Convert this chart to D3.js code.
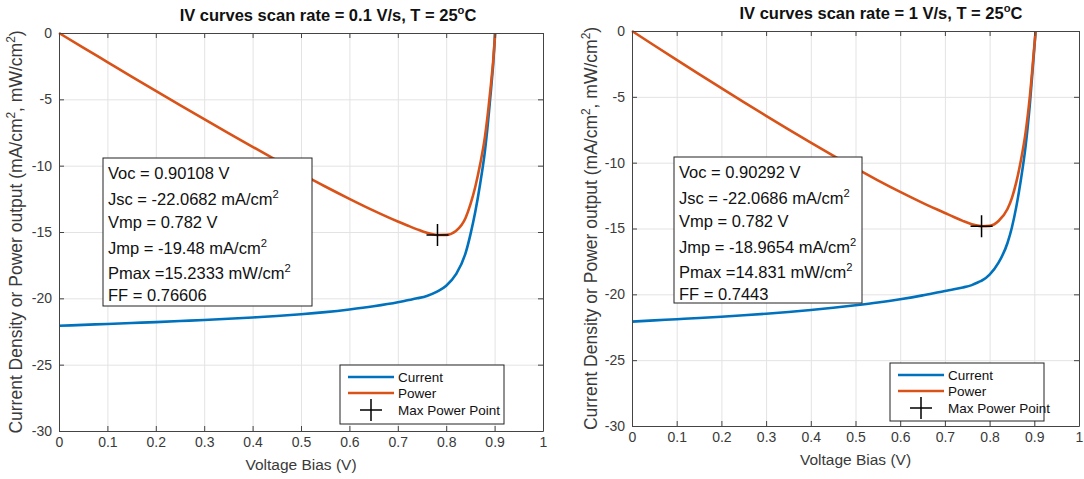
<!DOCTYPE html>
<html>
<head>
<meta charset="utf-8">
<script src="https://cdn.jsdelivr.net/npm/d3@7"></script>
<style>
body { margin: 0; background: #fff; }
svg { display: block; font-family: "Liberation Sans", Arial, Helvetica, sans-serif; }
</style>
</head>
<body>
<script>
// voltage bias (V) for each scan
var voltage1 = [0, 0.05, 0.1, 0.15, 0.2, 0.25, 0.3, 0.35, 0.4, 0.45, 0.5, 0.55, 0.6, 0.65, 0.7, 0.72, 0.74, 0.76, 0.78, 0.782, 0.8, 0.82, 0.84, 0.85, 0.86, 0.87, 0.88, 0.89, 0.9, 0.901];
var current1 = [-22.07, -22.0, -21.93, -21.86, -21.79, -21.71, -21.63, -21.54, -21.44, -21.33, -21.2, -21.04, -20.84, -20.6, -20.3, -20.15, -20.0, -19.82, -19.52, -19.48, -19.05, -18.2, -16.6, -15.2, -13.5, -11.4, -8.9, -5.3, -0.7, 0];
var power1 = [0, -1.1, -2.19, -3.28, -4.36, -5.43, -6.49, -7.54, -8.58, -9.6, -10.6, -11.57, -12.5, -13.39, -14.21, -14.51, -14.8, -15.06, -15.22, -15.23, -15.22, -14.92, -13.94, -12.92, -11.61, -9.92, -7.83, -4.72, -0.63, 0];

var voltage2 = [0, 0.05, 0.1, 0.15, 0.2, 0.25, 0.3, 0.35, 0.4, 0.45, 0.5, 0.55, 0.6, 0.65, 0.7, 0.72, 0.74, 0.76, 0.78, 0.782, 0.8, 0.82, 0.84, 0.85, 0.86, 0.87, 0.88, 0.89, 0.9, 0.903];
var current2 = [-22.07, -21.98, -21.89, -21.8, -21.7, -21.59, -21.47, -21.34, -21.19, -21.02, -20.83, -20.62, -20.37, -20.08, -19.74, -19.62, -19.48, -19.3, -19.0, -18.97, -18.5, -17.6, -16.1, -14.9, -13.3, -11.3, -8.9, -5.6, -1.3, 0];
var power2 = [0, -1.1, -2.19, -3.27, -4.34, -5.4, -6.44, -7.47, -8.48, -9.46, -10.42, -11.34, -12.22, -13.05, -13.82, -14.13, -14.42, -14.67, -14.82, -14.83, -14.8, -14.43, -13.52, -12.67, -11.44, -9.83, -7.83, -4.98, -1.17, 0];

// max power points [V, P]
var mpp1 = [0.782, -15.2333];
var mpp2 = [0.782, -14.831];

var stats1 = ["Voc = 0.90108 V", "Jsc = -22.0682 mA/cm^2", "Vmp = 0.782 V", "Jmp = -19.48 mA/cm^2", "Pmax =15.2333 mW/cm^2", "FF = 0.76606"];
var stats2 = ["Voc = 0.90292 V", "Jsc = -22.0686 mA/cm^2", "Vmp = 0.782 V", "Jmp = -18.9654 mA/cm^2", "Pmax =14.831 mW/cm^2", "FF = 0.7443"];

var titles = ["IV curves scan rate = 0.1 V/s, T = 25^oC", "IV curves scan rate = 1 V/s, T = 25^oC"];
var xTicks = [0, 0.1, 0.2, 0.3, 0.4, 0.5, 0.6, 0.7, 0.8, 0.9, 1];
var yTicks = [0, -5, -10, -15, -20, -25, -30];
var legendLabels = ["Current", "Power", "Max Power Point"];
var xLabel = "Voltage Bias (V)";
var yLabel = "Current Density or Power output (mA/cm^2, mW/cm^2)";

var blue = "#0072bd", orange = "#d95319";

var panels = [
	{v: voltage1, j: current1, p: power1, mpp: mpp1, stats: stats1, title: titles[0],
	 left: 59, top: 33, w: 484, h: 398, titleX: 328, ylabX: 22,
	 box: {x: 103, y: 158, w: 209, h: 148}, legend: {x: 340, y: 365, w: 164, h: 59}},
	{v: voltage2, j: current2, p: power2, mpp: mpp2, stats: stats2, title: titles[1],
	 left: 632, top: 31, w: 447, h: 395, titleX: 881, ylabX: 597,
	 box: {x: 674, y: 157, w: 188, h: 146}, legend: {x: 890, y: 363, w: 154, h: 58}}
];

var svg = d3.select("body").append("svg")
	.attr("width", 1084)
	.attr("height", 479);

// writes "a^2b" as text with a raised 2
function supText(sel, str, size) {
	var parts = str.split("^");
	sel.append("tspan").text(parts[0]);
	for (var i = 1; i < parts.length; i++) {
		sel.append("tspan").attr("dy", -size * 0.4).attr("font-size", size * 0.68).text(parts[i].charAt(0));
		sel.append("tspan").attr("dy", size * 0.4).text(parts[i].slice(1));
	}
}

panels.forEach(function(pn) {
	var x = d3.scaleLinear().domain([0, 1]).range([pn.left, pn.left + pn.w]);
	var y = d3.scaleLinear().domain([-30, 0]).range([pn.top + pn.h, pn.top]);
	var g = svg.append("g");

	// grid
	g.append("g")
		.attr("transform", "translate(0," + (pn.top + pn.h) + ")")
		.call(d3.axisBottom(x).tickValues(xTicks).tickSize(-pn.h).tickFormat(""))
		.call(function(a) { a.select(".domain").remove(); a.selectAll("line").attr("stroke", "#e3e3e3"); });
	g.append("g")
		.attr("transform", "translate(" + pn.left + ",0)")
		.call(d3.axisLeft(y).tickValues(yTicks).tickSize(-pn.w).tickFormat(""))
		.call(function(a) { a.select(".domain").remove(); a.selectAll("line").attr("stroke", "#e3e3e3"); });

	// curves
	var pts = pn.v.map(function(d, i) { return {v: d, j: pn.j[i], p: pn.p[i]}; });
	g.append("path").datum(pts)
		.attr("fill", "none").attr("stroke", blue).attr("stroke-width", 2.6)
		.attr("d", d3.line().x(function(d) { return x(d.v); }).y(function(d) { return y(d.j); }).curve(d3.curveMonotoneX));
	g.append("path").datum(pts)
		.attr("fill", "none").attr("stroke", orange).attr("stroke-width", 2.6)
		.attr("d", d3.line().x(function(d) { return x(d.v); }).y(function(d) { return y(d.p); }).curve(d3.curveMonotoneX));

	// max power point marker
	g.append("path")
		.attr("d", "M-11,0H11M0,-11V11")
		.attr("transform", "translate(" + x(pn.mpp[0]) + "," + y(pn.mpp[1]) + ")")
		.attr("stroke", "#000").attr("stroke-width", 1.5);

	// axes, ticks inward on all four sides
	var axCol = "#444";
	function styleAx(a) {
		a.select(".domain").attr("stroke", axCol);
		a.selectAll(".tick line").attr("stroke", axCol);
		a.selectAll("text").attr("fill", "#3a3a3a").attr("font-size", 14).attr("font-family", null);
	}
	g.append("g")
		.attr("transform", "translate(0," + (pn.top + pn.h) + ")")
		.call(d3.axisBottom(x).tickValues(xTicks).tickSizeInner(-5).tickSizeOuter(0).tickPadding(6).tickFormat(function(d) { return String(d); }))
		.call(styleAx);
	g.append("g")
		.attr("transform", "translate(0," + pn.top + ")")
		.call(d3.axisTop(x).tickValues(xTicks).tickSizeInner(-5).tickSizeOuter(0).tickFormat(""))
		.call(styleAx);
	g.append("g")
		.attr("transform", "translate(" + pn.left + ",0)")
		.call(d3.axisLeft(y).tickValues(yTicks).tickSizeInner(-5).tickSizeOuter(0).tickPadding(7).tickFormat(function(d) { return String(d); }))
		.call(styleAx);
	g.append("g")
		.attr("transform", "translate(" + (pn.left + pn.w) + ",0)")
		.call(d3.axisRight(y).tickValues(yTicks).tickSizeInner(-5).tickSizeOuter(0).tickFormat(""))
		.call(styleAx);

	// title
	supText(g.append("text")
		.attr("x", pn.titleX).attr("y", pn.top - 12)
		.attr("text-anchor", "middle").attr("font-size", 16.5).attr("font-weight", "bold").attr("fill", "#111"),
		pn.title, 16.5);

	// axis labels
	g.append("text")
		.attr("x", pn.left + pn.w / 2).attr("y", pn.top + pn.h + 39)
		.attr("text-anchor", "middle").attr("font-size", 15.5).attr("fill", "#3a3a3a")
		.text(xLabel);
	supText(g.append("text")
		.attr("transform", "translate(" + pn.ylabX + "," + (pn.top + pn.h / 2) + ") rotate(-90)")
		.attr("text-anchor", "middle").attr("font-size", 17.5).attr("fill", "#3a3a3a"),
		yLabel, 17.5);

	// stats box
	g.append("rect")
		.attr("x", pn.box.x).attr("y", pn.box.y).attr("width", pn.box.w).attr("height", pn.box.h)
		.attr("fill", "#fff").attr("stroke", "#222").attr("stroke-width", 1);
	var base = [21, 47, 70, 96, 121, 143];
	pn.stats.forEach(function(s, i) {
		supText(g.append("text")
			.attr("x", pn.box.x + 5).attr("y", pn.box.y + base[i])
			.attr("font-size", 16.5).attr("fill", "#111"), s, 16.5);
	});

	// legend
	var L = pn.legend;
	g.append("rect")
		.attr("x", L.x).attr("y", L.y).attr("width", L.w).attr("height", L.h)
		.attr("fill", "#fff").attr("stroke", "#222").attr("stroke-width", 1);
	var rows = [L.y + 12, L.y + 28, L.y + 45];
	g.append("line").attr("x1", L.x + 8).attr("x2", L.x + 54).attr("y1", rows[0]).attr("y2", rows[0])
		.attr("stroke", blue).attr("stroke-width", 2.6);
	g.append("line").attr("x1", L.x + 8).attr("x2", L.x + 54).attr("y1", rows[1]).attr("y2", rows[1])
		.attr("stroke", orange).attr("stroke-width", 2.6);
	g.append("path").attr("d", "M-11,0H11M0,-11V11")
		.attr("transform", "translate(" + (L.x + 31) + "," + rows[2] + ")")
		.attr("stroke", "#000").attr("stroke-width", 1.5);
	legendLabels.forEach(function(t, i) {
		g.append("text")
			.attr("x", L.x + 58).attr("y", rows[i]).attr("dy", "0.35em")
			.attr("font-size", 13.5).attr("fill", "#111").text(t);
	});
});
</script>
</body>
</html>
